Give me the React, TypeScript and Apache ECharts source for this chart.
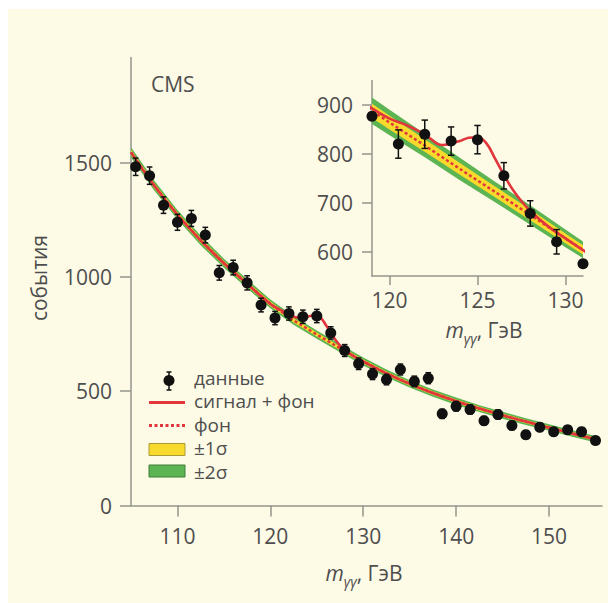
import React, { useEffect, useRef } from 'react';
import * as echarts from 'echarts';

// ---- data ----
const massBins = [105.5, 107, 108.5, 110, 111.5, 113, 114.5, 116, 117.5, 119, 120.5, 122, 123.5, 125, 126.5, 128, 129.5, 131, 132.5, 134, 135.5, 137, 138.5, 140, 141.5, 143, 144.5, 146, 147.5, 149, 150.5, 152, 153.5, 155];
const events = [1482, 1443, 1314, 1239, 1256, 1183, 1018, 1041, 974, 877, 820, 840, 826, 829, 755, 678, 620, 575, 551, 595, 543, 557, 401, 434, 420, 371, 398, 350, 310, 342, 323, 331, 323, 284];
const eventErrors = [38, 38, 36, 35, 35, 34, 32, 32, 31, 30, 29, 29, 29, 29, 27, 26, 25, 24, 23, 24, 23, 24, 20, 21, 20, 19, 20, 19, 18, 18, 18, 18, 18, 17];

// background fit (main panel)
const bgMass = [105, 107.5, 110, 112.5, 115, 117.5, 120, 122.5, 125, 127.5, 130, 132.5, 135, 137.5, 140, 142.5, 145, 147.5, 150, 152.5, 155];
const bgEvents = [1545, 1400, 1272, 1160, 1060, 970, 882, 810, 748, 688, 630, 578, 532, 492, 456, 424, 395, 367, 341, 315, 290];
const bgSigma1 = [11, 11, 11, 10, 10, 10, 10, 9, 9, 9, 9, 8, 8, 8, 8, 8, 7, 7, 7, 7, 7];
const bgSigma2 = [22, 22, 21, 21, 20, 20, 19, 19, 18, 18, 17, 17, 16, 16, 16, 15, 15, 15, 14, 14, 14];

// signal + background (main panel)
const sigMass = [105, 107.5, 110, 112.5, 115, 117.5, 120, 121, 122, 123, 124, 124.5, 125, 125.5, 126, 126.5, 127, 127.5, 128, 129, 130, 132.5, 135, 137.5, 140, 142.5, 145, 147.5, 150, 152.5, 155];
const sigEvents = [1545, 1400, 1272, 1160, 1060, 970, 882, 857, 838, 822, 826, 831, 832, 818, 788, 756, 725, 700, 680, 652, 630, 578, 532, 492, 456, 424, 395, 367, 341, 315, 290];

// inset panel curves
const insetBgMass = [118, 120, 122, 124, 126, 128, 130, 132];
const insetBgEvents = [912, 864, 817, 769, 722, 675, 627, 580];
const insetSigma1 = [15, 14, 13, 12, 11, 11, 10, 9];
const insetSigma2 = [28, 26, 24, 23, 21, 20, 18, 16];
const insetSigMass = [118, 119, 120, 121, 122, 123, 124, 124.5, 125, 125.5, 126, 126.5, 127, 127.5, 128, 129, 130, 131, 132];
const insetSigEvents = [918, 893, 872, 858, 840, 818, 826, 833, 834, 822, 790, 757, 727, 703, 683, 652, 627, 603, 580];

// axes
const mainXTicks = [110, 120, 130, 140, 150];
const mainYTicks = [0, 500, 1000, 1500];
const insetXTicks = [120, 125, 130];
const insetYTicks = [600, 700, 800, 900];

// legend labels
const legendLabels = ['данные', 'сигнал + фон', 'фон', '±1σ', '±2σ'];

// ---- styles ----
const RED = '#e0363c';
const YELLOW = '#f8da2c';
const GREEN = '#5cb552';
const AXIS = '#95958d';
const TEXT = '#4e4e4e';
const CREAM = '#fdfae6';
const FONT = '"Open Sans", "Noto Sans", sans-serif';

function bandSeries(xs: number[], center: number[], s1: number[], s2: number[], ax: number) {
  return {
    type: 'custom',
    xAxisIndex: ax,
    yAxisIndex: ax,
    silent: true,
    z: 1,
    data: [[xs[0], center[0]]],
    renderItem: (params: any, api: any) => {
      const upper = (h: number[]) => xs.map((x, i) => api.coord([x, center[i] + h[i]]));
      const lower = (h: number[]) => xs.map((x, i) => api.coord([x, center[i] - h[i]])).reverse();
      const cs = params.coordSys;
      return {
        type: 'group',
        clipPath: { type: 'rect', shape: { x: cs.x, y: cs.y, width: cs.width, height: cs.height } },
        children: [
          { type: 'polygon', shape: { points: [...upper(s2), ...lower(s2)] }, style: { fill: GREEN } },
          { type: 'polygon', shape: { points: [...upper(s1), ...lower(s1)] }, style: { fill: YELLOW } },
        ],
      };
    },
  };
}

function errorSeries(xs: number[], ys: number[], errs: number[], ax: number, cap: number) {
  return {
    type: 'custom',
    xAxisIndex: ax,
    yAxisIndex: ax,
    silent: true,
    z: 4,
    data: xs.map((x, i) => [x, ys[i] - errs[i], ys[i] + errs[i]]),
    encode: { x: 0, y: [1, 2] },
    renderItem: (params: any, api: any) => {
      const x = api.value(0);
      const lo = api.coord([x, api.value(1)]);
      const hi = api.coord([x, api.value(2)]);
      const st = { stroke: '#111', lineWidth: 1.5 };
      return {
        type: 'group',
        children: [
          { type: 'line', shape: { x1: lo[0], y1: lo[1], x2: hi[0], y2: hi[1] }, style: st },
          { type: 'line', shape: { x1: lo[0] - cap, y1: lo[1], x2: lo[0] + cap, y2: lo[1] }, style: st },
          { type: 'line', shape: { x1: hi[0] - cap, y1: hi[1], x2: hi[0] + cap, y2: hi[1] }, style: st },
        ],
      };
    },
  };
}

function lineSeries(xs: number[], ys: number[], ax: number, dotted: boolean, smooth: number | boolean) {
  return {
    type: 'line',
    xAxisIndex: ax,
    yAxisIndex: ax,
    data: xs.map((x, i) => [x, ys[i]]),
    showSymbol: false,
    symbol: 'none',
    smooth,
    silent: true,
    z: dotted ? 2 : 3,
    lineStyle: dotted ? { color: RED, width: 2.5, type: [3, 2.5] } : { color: RED, width: 2.6 },
  };
}

function axisCommon(ticks: number[], tickLen: number, margin: number) {
  return {
    axisLine: { show: true, onZero: false, lineStyle: { color: AXIS, width: 1.5 } },
    axisTick: { show: true, length: tickLen, customValues: ticks, lineStyle: { color: AXIS, width: 1.5 } },
    axisLabel: {
      customValues: ticks, margin, fontSize: 21, color: TEXT, fontFamily: FONT,
      formatter: (v: number) => String(v),
    },
    splitLine: { show: false },
  };
}

const massName = (x: number, y: number) => ({
  type: 'text',
  x,
  y,
  z: 20,
  style: {
    text: '{m|m}{s|γγ}{n|, ГэВ}',
    align: 'center',
    verticalAlign: 'middle',
    fill: TEXT,
    fontFamily: FONT,
    rich: {
      m: { fontSize: 21, fontStyle: 'italic', lineHeight: 24, verticalAlign: 'top', fill: TEXT, fontFamily: FONT },
      s: { fontSize: 14, fontStyle: 'italic', lineHeight: 14, padding: [12, 0, 0, 0], verticalAlign: 'top', fill: TEXT, fontFamily: FONT },
      n: { fontSize: 21, lineHeight: 24, verticalAlign: 'top', fill: TEXT, fontFamily: FONT },
    },
  },
});

function buildOption() {
  const inset = massBins.map((m, i) => i).filter((i) => massBins[i] >= 119 && massBins[i] <= 131);
  const insetInner = inset.filter((i) => massBins[i] > 119 && massBins[i] < 131);
  const txt = (text: string, x: number, y: number, size = 21) => ({
    type: 'text', x, y, z: 20,
    style: { text, fontSize: size, lineHeight: size, fill: TEXT, fontFamily: FONT, verticalAlign: 'middle' },
  });
  const lg = { stroke: '#111', lineWidth: 1.5 };
  const legendY = [377.5, 401, 424.5, 448, 471.5];
  return {
    animation: false,
    textStyle: { fontFamily: FONT },
    grid: [
      { left: 131, top: 57.5, width: 471, height: 448 },
      { left: 372, top: 80.5, width: 211, height: 195.5 },
    ],
    xAxis: [
      { type: 'value', gridIndex: 0, min: 105, max: 155.7, ...axisCommon(mainXTicks, 11, 20) },
      { type: 'value', gridIndex: 1, min: 119, max: 131, ...axisCommon(insetXTicks, 9, 13) },
    ],
    yAxis: [
      { type: 'value', gridIndex: 0, min: 0, max: 1960, ...axisCommon(mainYTicks, 11, 19) },
      { type: 'value', gridIndex: 1, min: 550, max: 950, ...axisCommon(insetYTicks, 10, 19) },
    ],
    series: [
      bandSeries(bgMass, bgEvents, bgSigma1, bgSigma2, 0),
      lineSeries(bgMass, bgEvents, 0, true, false),
      lineSeries(sigMass, sigEvents, 0, false, 0.4),
      errorSeries(massBins, events, eventErrors, 0, 2.8),
      {
        type: 'scatter', xAxisIndex: 0, yAxisIndex: 0, z: 5, silent: true,
        symbolSize: 11, itemStyle: { color: '#111', opacity: 1 },
        data: massBins.map((m, i) => [m, events[i]]),
      },
      bandSeries(insetBgMass, insetBgEvents, insetSigma1, insetSigma2, 1),
      lineSeries(insetBgMass, insetBgEvents, 1, true, false),
      lineSeries(insetSigMass, insetSigEvents, 1, false, 0.4),
      errorSeries(insetInner.map((i) => massBins[i]), insetInner.map((i) => events[i]), insetInner.map((i) => eventErrors[i]), 1, 3.2),
      {
        type: 'scatter', xAxisIndex: 1, yAxisIndex: 1, z: 5, silent: true,
        symbolSize: 11, itemStyle: { color: '#111', opacity: 1 },
        data: inset.map((i) => [massBins[i], events[i]]),
      },
    ],
    graphic: [
      txt('CMS', 151, 84),
      { type: 'text', x: 39, y: 278, rotation: Math.PI / 2, z: 20,
        style: { text: 'события', fontSize: 21, fill: TEXT, fontFamily: FONT, align: 'center', verticalAlign: 'middle' } },
      massName(364, 574),
      massName(484, 331),
      // legend
      { type: 'line', z: 20, shape: { x1: 169, y1: 372, x2: 169, y2: 390 }, style: lg },
      { type: 'line', z: 20, shape: { x1: 166.5, y1: 372, x2: 171.5, y2: 372 }, style: lg },
      { type: 'line', z: 20, shape: { x1: 166.5, y1: 390, x2: 171.5, y2: 390 }, style: lg },
      { type: 'circle', z: 21, shape: { cx: 169, cy: 380.5, r: 5.5 }, style: { fill: '#111' } },
      { type: 'line', z: 20, shape: { x1: 149, y1: 402.5, x2: 185, y2: 402.5 }, style: { stroke: RED, lineWidth: 3 } },
      { type: 'line', z: 20, shape: { x1: 149, y1: 425.5, x2: 185, y2: 425.5 }, style: { stroke: RED, lineWidth: 3, lineDash: [3, 2.5] } },
      { type: 'rect', z: 20, shape: { x: 149, y: 443.5, width: 36, height: 12 }, style: { fill: YELLOW, stroke: '#a89a36', lineWidth: 1 } },
      { type: 'rect', z: 20, shape: { x: 149, y: 465, width: 36, height: 12 }, style: { fill: GREEN, stroke: '#3f7f3b', lineWidth: 1 } },
      ...legendLabels.map((t, i) => txt(t, 194, legendY[i], 19)),
    ],
  };
}

export default function App() {
  const ref = useRef<HTMLDivElement>(null);
  useEffect(() => {
    const chart = echarts.init(ref.current as HTMLDivElement, null, { renderer: 'svg' });
    chart.setOption(buildOption() as any);
    return () => chart.dispose();
  }, []);
  return (
    <div style={{ position: 'fixed', left: 0, top: 0, width: 608, height: 603, background: '#ffffff' }}>
      <div style={{ position: 'absolute', left: 8, top: 9, right: 0, bottom: 0, background: CREAM }} />
      <div ref={ref} style={{ position: 'absolute', left: 0, top: 0, width: 608, height: 603 }} />
    </div>
  );
}
